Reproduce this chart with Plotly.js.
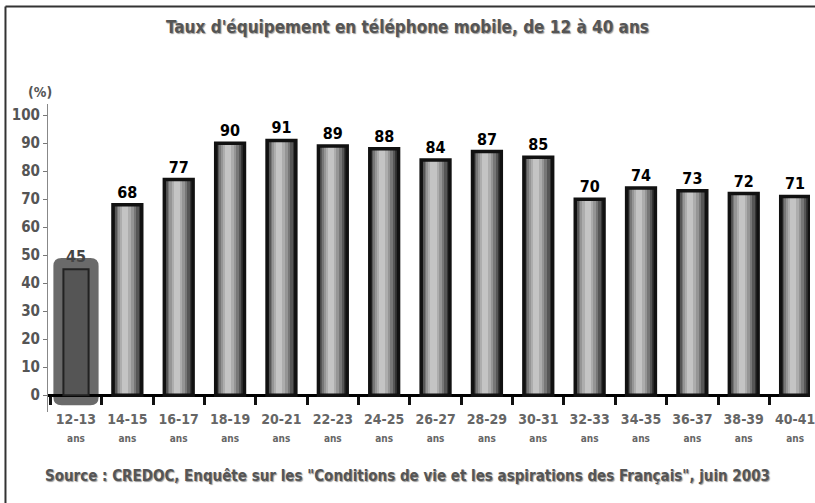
<!DOCTYPE html>
<html>
<head>
<meta charset="utf-8">
<script src="https://cdn.plot.ly/plotly-3.0.1.min.js"></script>
<style>
body { margin: 0; background: #fff; }
#plot { width: 815px; height: 503px; }
</style>
</head>
<body>
<div id="plot"></div>
<script>
// tranches d'âge et taux d'équipement (%)
var ages = ["12-13", "14-15", "16-17", "18-19", "20-21", "22-23", "24-25", "26-27",
            "28-29", "30-31", "32-33", "34-35", "36-37", "38-39", "40-41"];
var taux = [45, 68, 77, 90, 91, 89, 88, 84, 87, 85, 70, 74, 73, 72, 71];
var yTicks = [0, 10, 20, 30, 40, 50, 60, 70, 80, 90, 100];

var FONT = "'DejaVu Sans Condensed', 'Liberation Sans Narrow', 'DejaVu Sans', sans-serif";

// couches pour imiter le dégradé cylindrique des barres
var layers = [
    {w: 0.54, c: "#353535", o: 0},
    {w: 0.46, c: "#565656", o: -0.01},
    {w: 0.38, c: "#777777", o: -0.02},
    {w: 0.30, c: "#959595", o: -0.03},
    {w: 0.21, c: "#adadad", o: -0.035},
    {w: 0.12, c: "#c4c4c4", o: -0.04}
];

var restAges = ages.slice(1);
var restTaux = taux.slice(1);

var plotData = [];

layers.forEach(function (l) {
    plotData.push({
        x: restAges,
        y: restTaux,
        type: "bar",
        width: l.w,
        offset: -l.w / 2 + l.o,
        marker: {color: l.c, line: {width: 0}},
        hoverinfo: "skip"
    });
});

// contour noir + étiquettes
plotData.push({
    x: restAges,
    y: restTaux,
    type: "bar",
    width: 0.56,
    marker: {color: "rgba(0,0,0,0)", line: {color: "#111", width: 3.5}},
    text: restTaux.map(String),
    textposition: "outside",
    cliponaxis: false,
    textfont: {family: FONT, size: 16, color: "#000", weight: "bold"}
});

// première barre (12-13 ans), mise en évidence
plotData.push({
    x: ages.slice(0, 1),
    y: taux.slice(0, 1),
    type: "bar",
    width: 0.49,
    marker: {color: "#555555", line: {color: "#222", width: 2}},
    text: taux.slice(0, 1).map(String),
    textposition: "outside",
    cliponaxis: false,
    textfont: {family: FONT, size: 16, color: "#444", weight: "bold"}
});

// cadre arrondi autour de la barre 12-13
var hx0 = -0.44, hx1 = 0.44, hy0 = -3.6, hy1 = 49, rx = 0.16, ry = 2.9;
var hlPath = "M" + (hx0 + rx) + "," + hy0 + " L" + (hx1 - rx) + "," + hy0 +
    " Q" + hx1 + "," + hy0 + " " + hx1 + "," + (hy0 + ry) +
    " L" + hx1 + "," + (hy1 - ry) +
    " Q" + hx1 + "," + hy1 + " " + (hx1 - rx) + "," + hy1 +
    " L" + (hx0 + rx) + "," + hy1 +
    " Q" + hx0 + "," + hy1 + " " + hx0 + "," + (hy1 - ry) +
    " L" + hx0 + "," + (hy0 + ry) +
    " Q" + hx0 + "," + hy0 + " " + (hx0 + rx) + "," + hy0 + " Z";

var yMin = -6, yMax = 104;

var layout = {
    width: 815,
    height: 503,
    margin: {l: 48, r: 5, t: 104, b: 91},
    paper_bgcolor: "#fff",
    plot_bgcolor: "#fff",
    showlegend: false,
    barmode: "overlay",
    bargap: 0,
    title: {
        text: "Taux d'équipement en téléphone mobile, de 12 à 40 ans",
        x: 0.5,
        xanchor: "center",
        y: 1 - 27 / 503,
        yanchor: "middle",
        font: {family: FONT, size: 17, color: "#555", weight: "bold", shadow: "1px 1px 1px #999"}
    },
    xaxis: {
        type: "category",
        categoryorder: "array",
        categoryarray: ages,
        range: [-0.545, 14.29],
        anchor: "free",
        position: (0 - yMin) / (yMax - yMin),
        showline: true,
        linecolor: "#000",
        linewidth: 3,
        layer: "below traces",
        ticks: "outside",
        tickson: "boundaries",
        ticklen: 8,
        tickwidth: 3,
        tickcolor: "#111",
        ticklabelstandoff: 10,
        tickvals: ages,
        ticktext: ages.map(function (a) { return a + "<br><span style='font-size:10px'>ans</span>"; }),
        tickfont: {family: FONT, size: 14, color: "#666", weight: "bold"},
        showgrid: false,
        zeroline: false,
        fixedrange: true
    },
    yaxis: {
        range: [yMin, yMax],
        tickvals: yTicks,
        ticktext: yTicks.map(String),
        ticks: "outside",
        ticklen: 4,
        tickcolor: "#777",
        showline: true,
        linecolor: "#888",
        linewidth: 1,
        tickfont: {family: FONT, size: 15, color: "#555", weight: "bold"},
        showgrid: false,
        zeroline: false,
        fixedrange: true
    },
    shapes: [
        {type: "path", xref: "x", yref: "y", path: hlPath, layer: "between",
         fillcolor: "#6a6a6a", line: {width: 0}},
        // cadre de l'image (haut et gauche)
        {type: "line", xref: "paper", yref: "paper", x0: -0.0558, x1: 1.02, y0: 1.3166, y1: 1.3166,
         line: {color: "#333", width: 2}},
        {type: "line", xref: "paper", yref: "paper", x0: -0.0558, x1: -0.0558, y0: 1.3166, y1: -0.31,
         line: {color: "#333", width: 2}}
    ],
    annotations: [
        {text: "(%)", xref: "paper", yref: "paper", x: -0.029, y: 1.071, showarrow: false,
         font: {family: FONT, size: 14, color: "#555", weight: "bold"}},
        {text: "Source : CREDOC, Enquête sur les \"Conditions de vie et les aspirations des Français\", juin 2003",
         xref: "paper", yref: "paper", x: 0.4718, y: -0.2435, showarrow: false,
         font: {family: FONT, size: 15, color: "#555", weight: "bold", shadow: "1px 1px 1px #999"}}
    ]
};

Plotly.newPlot("plot", plotData, layout, {displayModeBar: false, staticPlot: true});
</script>
</body>
</html>
